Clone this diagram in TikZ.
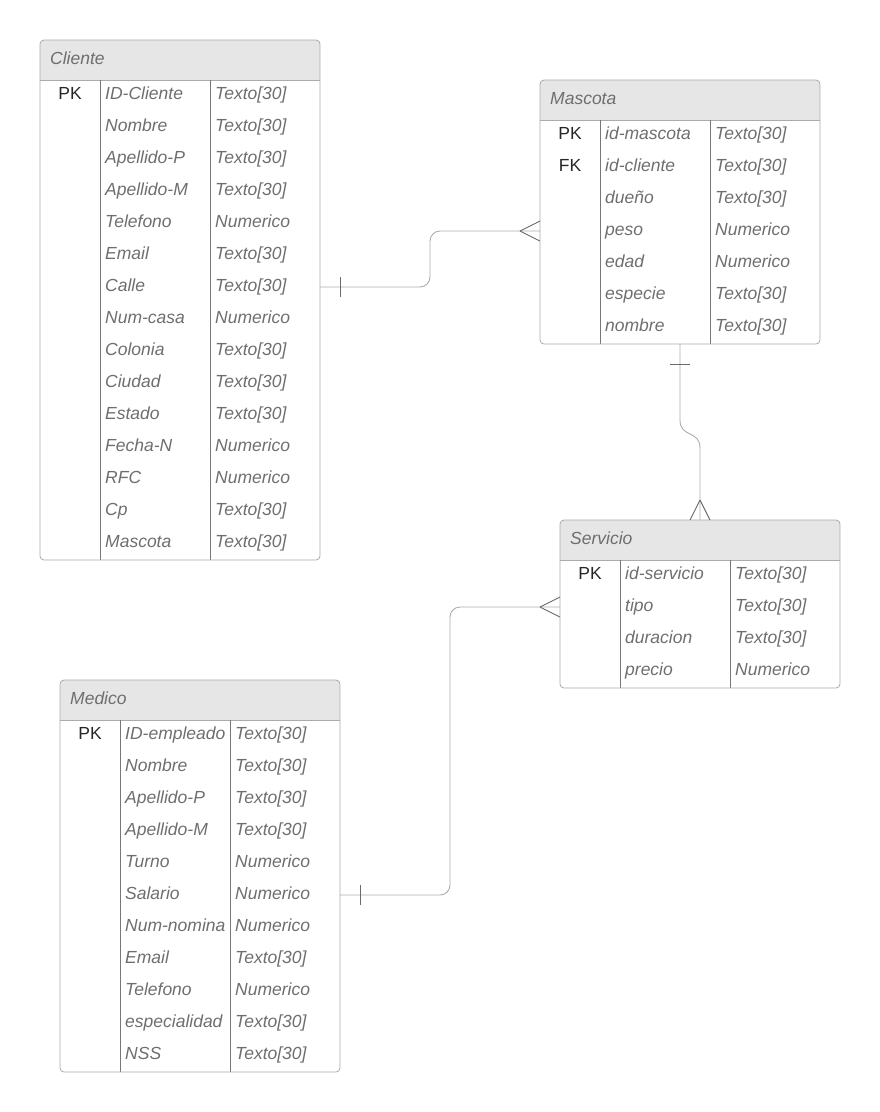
\documentclass[tikz,border=0pt]{standalone}
\usepackage{fontspec}
\setmainfont{Liberation Sans}
\usetikzlibrary{positioning}
\definecolor{bordegris}{HTML}{ABABAB}
\definecolor{divgris}{HTML}{777777}
\definecolor{cabeza}{HTML}{E6E6E6}
\definecolor{textogris}{HTML}{6E6E6E}
\definecolor{lineagris}{HTML}{ACACAC}
\definecolor{marcagris}{HTML}{6A6A6A}
\newcommand{\letra}{\fontsize{17.5}{20}\selectfont}
\tikzstyle{entidad} = [rectangle, rounded corners=4pt, draw=bordegris, line width=0.8pt, inner sep=0pt, outer sep=0pt, minimum width=280pt, anchor=north west]
\tikzstyle{titulo} = [anchor=west, inner sep=0pt, text=textogris, font=\letra\itshape, text height=12pt, text depth=3.5pt]
\tikzstyle{campo} = [anchor=west, inner sep=0pt, text=textogris, font=\letra\itshape, text height=12pt, text depth=3.5pt]
\tikzstyle{llave} = [inner sep=0pt, text=black!85, font=\letra, text height=12pt, text depth=3.5pt]
\tikzstyle{divisor} = [draw=divgris, line width=0.8pt]
\tikzstyle{relacion} = [draw=lineagris, line width=0.9pt, rounded corners=10pt]
\tikzstyle{marca} = [draw=marcagris, line width=0.9pt]

% tabla: nombre, x, y, filas, titulo, lista llave/campo/tipo
\newcommand{\tabla}[6]{%
  \begin{scope}[shift={(#2,#3)}]
    \pgfmathsetmacro{\alto}{40+32*#4}
    \begin{scope}
      \clip[rounded corners=4pt] (0,0) rectangle (280,\alto);
      \fill[cabeza] (0,0) rectangle (280,40);
    \end{scope}
    \draw[draw=bordegris, line width=0.8pt] (0,40) -- (280,40);
    \draw[divisor] (60,40) -- (60,\alto) (170,40) -- (170,\alto);
    \node (#1) [entidad, minimum height=\alto pt] at (0,0) {};
    \node (#1-t) [titulo] at (10,20) {#5};
    \foreach [count=\i] \k/\f/\t in {#6} {
      \node (#1-k\i) [llave] at (30,40+32*\i-17) {\k};
      \node (#1-\i) [campo] at (65,40+32*\i-17) {\f};
      \node (#1-d\i) [campo] at (175,40+32*\i-17) {\t};
    }
  \end{scope}}

\begin{document}
\begin{tikzpicture}[x=1pt, y=-1pt]
\useasboundingbox (0,0) rectangle (880,1112);

\tabla{cliente}{40}{40}{15}{Cliente}{PK/ID-Cliente/Texto[30], {}/Nombre/Texto[30], {}/Apellido-P/Texto[30], {}/Apellido-M/Texto[30], {}/Telefono/Numerico, {}/Email/Texto[30], {}/Calle/Texto[30], {}/Num-casa/Numerico, {}/Colonia/Texto[30], {}/Ciudad/Texto[30], {}/Estado/Texto[30], {}/Fecha-N/Numerico, {}/RFC/Numerico, {}/Cp/Texto[30], {}/Mascota/Texto[30]}

\tabla{mascota}{540}{80}{7}{Mascota}{PK/id-mascota/Texto[30], FK/id-cliente/Texto[30], {}/dueño/Texto[30], {}/peso/Numerico, {}/edad/Numerico, {}/especie/Texto[30], {}/nombre/Texto[30]}

\tabla{servicio}{560}{520}{4}{Servicio}{PK/id-servicio/Texto[30], {}/tipo/Texto[30], {}/duracion/Texto[30], {}/precio/Numerico}

\tabla{medico}{60}{680}{11}{Medico}{PK/ID-empleado/Texto[30], {}/Nombre/Texto[30], {}/Apellido-P/Texto[30], {}/Apellido-M/Texto[30], {}/Turno/Numerico, {}/Salario/Numerico, {}/Num-nomina/Numerico, {}/Email/Texto[30], {}/Telefono/Numerico, {}/especialidad/Texto[30], {}/NSS/Texto[30]}

% Cliente - Mascota
\coordinate (uno1) at (cliente.east |- cliente-7);
\coordinate (muchos1) at (mascota.west |- mascota-4);
\coordinate (codo1) at (430,260);
\draw [relacion] (uno1) -| (codo1) |- (muchos1);
\draw [marca] ([xshift=20pt]uno1) ++(0,-10) -- ++(0,20);
\draw [marca] ([xshift=-20pt]muchos1) -- ++(20,-10) ([xshift=-20pt]muchos1) -- ++(20,10);

% Mascota - Servicio
\coordinate (codo2a) at ([yshift=-76pt]mascota.south);
\coordinate (codo2b) at ([yshift=72pt]servicio.north);
\draw [relacion, sharp corners] (mascota.south) -- (codo2a) .. controls +(0,18) and +(0,-18) .. (codo2b) -- (servicio.north);
\draw [marca] ([yshift=-20pt]mascota.south) ++(-10,0) -- ++(20,0);
\draw [marca] ([yshift=20pt]servicio.north) -- ++(-10,20) ([yshift=20pt]servicio.north) -- ++(10,20);

% Medico - Servicio
\coordinate (uno3) at (medico.east |- medico-6);
\coordinate (muchos3) at (servicio.west |- servicio-2);
\coordinate (codo3) at (450,750);
\draw [relacion] (uno3) -| (codo3) |- (muchos3);
\draw [marca] ([xshift=20pt]uno3) ++(0,-10) -- ++(0,20);
\draw [marca] ([xshift=-20pt]muchos3) -- ++(20,-10) ([xshift=-20pt]muchos3) -- ++(20,10);
\end{tikzpicture}
\end{document}
